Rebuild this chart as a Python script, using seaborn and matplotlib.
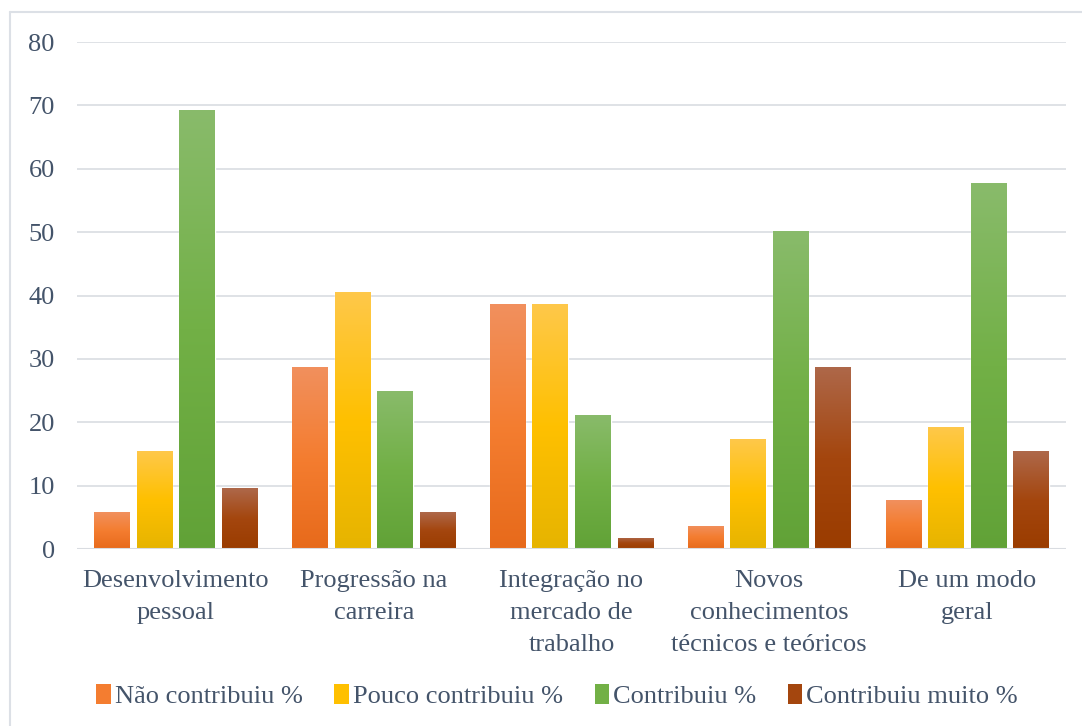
import numpy as np
import pandas as pd
import matplotlib
matplotlib.use("Agg")
import matplotlib.pyplot as plt
import seaborn as sns
from matplotlib.colors import LinearSegmentedColormap
from matplotlib.patches import Rectangle
from matplotlib.lines import Line2D

categories = ["Desenvolvimento\npessoal", "Progressão na\ncarreira",
              "Integração no\nmercado de\ntrabalho",
              "Novos\nconhecimentos\ntécnicos e teóricos", "De um modo\ngeral"]
series = ["Não contribuiu %", "Pouco contribuiu %", "Contribuiu %", "Contribuiu muito %"]
nao_contribuiu = [5.8, 28.8, 38.6, 3.7, 7.7]
pouco_contribuiu = [15.4, 40.5, 38.6, 17.3, 19.2]
contribuiu = [69.3, 25.0, 21.2, 50.2, 57.7]
contribuiu_muito = [9.6, 5.8, 1.8, 28.8, 15.4]
yticks = [0, 10, 20, 30, 40, 50, 60, 70, 80]

values = [nao_contribuiu, pouco_contribuiu, contribuiu, contribuiu_muito]
df = pd.DataFrame([(c, s, v) for s, vals in zip(series, values) for c, v in zip(categories, vals)],
                  columns=["cat", "serie", "val"])

# gradient stops (top, middle, bottom)
grads = [
    ["#F1905E", "#F47D30", "#E76A1B"],
    ["#FEC84A", "#FFC000", "#E6B400"],
    ["#89BB6B", "#72B046", "#61A237"],
    ["#AE684A", "#A4460E", "#9A3C00"],
]
mids = [g[1] for g in grads]

sns.set_theme(style="white")
plt.rcParams["font.family"] = ["Liberation Serif", "DejaVu Serif"]
text_color = "#44546A"
fs = 19

fig = plt.figure(figsize=(10.82, 7.26), dpi=100)
ax = fig.add_axes([0.0712, 0.2438, 0.9140, 0.6982])

sns.barplot(data=df, x="cat", y="val", hue="serie", palette=mids, width=0.86, gap=0.165,
            ax=ax, legend=False, saturation=1)

ax.set_yticks(yticks)
ax.yaxis.grid(True, color="#DCDFE4", linewidth=1.3)
ax.set_axisbelow(True)
for s in ax.spines.values():
    s.set_visible(False)
ax.set_xlabel("")
ax.set_ylabel("")
ax.tick_params(axis="both", length=0, labelsize=fs, colors=text_color)
ax.tick_params(axis="y", pad=16)
ax.tick_params(axis="x", pad=15)
for lab in ax.get_xticklabels():
    lab.set_linespacing(1.58)
    lab.set_va("top")
ax.axhline(0, color="#D9DCE1", linewidth=1.5, zorder=3)

# gradients clipped to bars
for i, cont in enumerate(ax.containers):
    cmap = LinearSegmentedColormap.from_list(f"g{i}", grads[i][::-1])
    for bar in cont:
        x0, y0 = bar.get_x(), bar.get_y()
        w, h = bar.get_width(), bar.get_height()
        grad = np.linspace(0, 1, 256).reshape(-1, 1)
        im = ax.imshow(grad, cmap=cmap, origin="lower", aspect="auto",
                       extent=[x0, x0 + w, y0, y0 + h], zorder=2.5, interpolation="bilinear")
        im.set_clip_path(bar)
ax.set_xlim(-0.5, len(categories) - 0.5)
ax.set_ylim(0, 80)

handles = [Rectangle((0, 0), 1, 1, facecolor=c, edgecolor="none") for c in mids]
fig.legend(handles, series, loc="center", bbox_to_anchor=(0.515, 0.041), ncol=4,
           frameon=False, fontsize=fs, handlelength=0.55, handleheight=0.75,
           handletextpad=0.15, columnspacing=1.2, labelcolor=text_color)

bx = 10 / 1082
by = 1 - 12 / 726
fig.add_artist(Line2D([bx, 1], [by, by], transform=fig.transFigure, color="#DCE0E6", linewidth=1.5))
fig.add_artist(Line2D([bx, bx], [0, by], transform=fig.transFigure, color="#DCE0E6", linewidth=1.5))

fig.savefig("out.png", dpi=100)
